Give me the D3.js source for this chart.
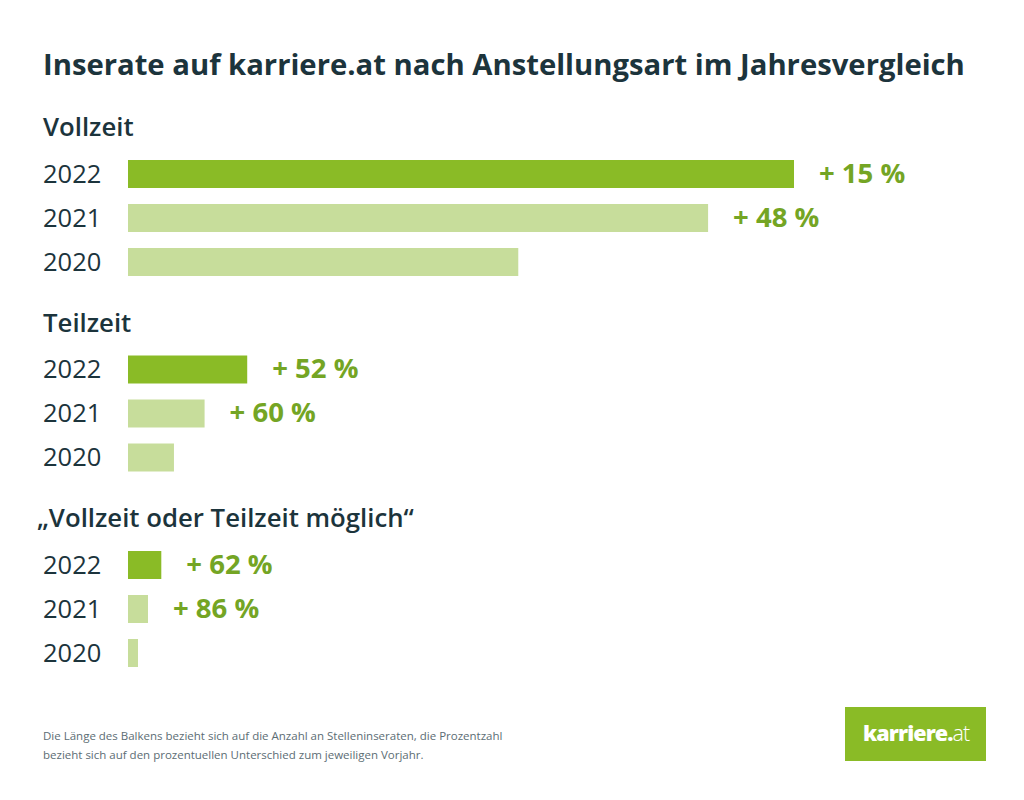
<!DOCTYPE html>
<html lang="de">

<head>
  <meta charset="UTF-8">
  <title>Inserate auf karriere.at nach Anstellungsart</title>
  <script src="https://cdn.jsdelivr.net/npm/d3@7"></script>
  <style>
    html, body { margin: 0; padding: 0; background: #fff; }
    svg { display: block; }
    text { font-family: "Open Sans", sans-serif; }
  </style>
</head>

<body>
  <script>
    // bar lengths relative to Vollzeit 2022 = 100
    var groups = ['Vollzeit', 'Teilzeit', '„Vollzeit oder Teilzeit möglich“'];
    var years = ['2022', '2021', '2020'];
    var vollzeit = [100, 87.1, 58.6];
    var teilzeit = [17.9, 11.5, 6.9];
    var beides = [5, 3, 1.5];
    var changes = [
      ['+ 15 %', '+ 48 %', ''],
      ['+ 52 %', '+ 60 %', ''],
      ['+ 62 %', '+ 86 %', '']
    ];
    var footnote = [
      'Die Länge des Balkens bezieht sich auf die Anzahl an Stelleninseraten, die Prozentzahl',
      'bezieht sich auf den prozentuellen Unterschied zum jeweiligen Vorjahr.'
    ];
    var series = [vollzeit, teilzeit, beides];

    var svg = d3.select('body').append('svg')
      .attr('width', 1024)
      .attr('height', 800);

    var x = d3.scaleLinear().domain([0, 100]).range([128, 794]);
    var groupY = d3.scalePoint().domain(groups).range([160, 551]);
    var y = d3.scaleBand().domain(years).range([0, 116]).paddingInner(16 / 44);

    svg.append('text')
      .attr('x', 43)
      .attr('y', 74.5)
      .attr('font-size', 29.25)
      .attr('font-weight', 700)
      .attr('fill', '#1c343c')
      .text('Inserate auf karriere.at nach Anstellungsart im Jahresvergleich');

    groups.forEach(function (name, i) {
      var g = svg.append('g').attr('transform', 'translate(0,' + groupY(name) + ')');

      g.append('text')
        .attr('x', name.charAt(0) === '„' ? 37 : 43)
        .attr('y', -24)
        .attr('font-size', 25.75)
        .attr('font-weight', 600)
        .attr('fill', '#1c343c')
        .text(name);

      var axis = g.append('g')
        .attr('transform', 'translate(43,0.5)')
        .call(d3.axisLeft(y).tickSize(0).tickPadding(0));
      axis.select('.domain').remove();
      axis.selectAll('text')
        .attr('text-anchor', 'start')
        .attr('font-size', 25.5)
        .attr('fill', '#1c343c')
        .style('font-family', '"Open Sans", sans-serif');

      g.selectAll('rect')
        .data(series[i])
        .enter()
        .append('rect')
        .attr('x', x(0))
        .attr('y', function (d, j) { return y(years[j]); })
        .attr('width', function (d) { return x(d) - x(0); })
        .attr('height', y.bandwidth())
        .attr('fill', function (d, j) { return j === 0 ? '#8abb26' : '#c7dd9b'; });

      g.selectAll('text.change')
        .data(series[i])
        .enter()
        .append('text')
        .attr('class', 'change')
        .attr('x', function (d) { return x(d) + 25; })
        .attr('y', function (d, j) { return y(years[j]) + y.bandwidth() / 2 + 8.5; })
        .attr('font-size', 27.5)
        .attr('font-weight', 700)
        .attr('fill', '#74a524')
        .text(function (d, j) { return changes[i][j]; });
    });

    svg.selectAll('text.note')
      .data(footnote)
      .enter()
      .append('text')
      .attr('class', 'note')
      .attr('x', 43)
      .attr('y', function (d, i) { return 740 + i * 19; })
      .attr('font-size', 11.5)
      .attr('fill', '#5c6d74')
      .text(function (d) { return d; });

    // logo box
    svg.append('rect')
      .attr('x', 845)
      .attr('y', 707)
      .attr('width', 141)
      .attr('height', 54)
      .attr('fill', '#8abb26');
    var logo = svg.append('text')
      .attr('x', 863)
      .attr('y', 741)
      .attr('font-size', 21.5)
      .attr('letter-spacing', -0.9)
      .attr('fill', '#fff');
    logo.append('tspan').attr('font-weight', 800).text('karriere.');
    logo.append('tspan').attr('font-weight', 300).text('at');
  </script>
</body>

</html>
